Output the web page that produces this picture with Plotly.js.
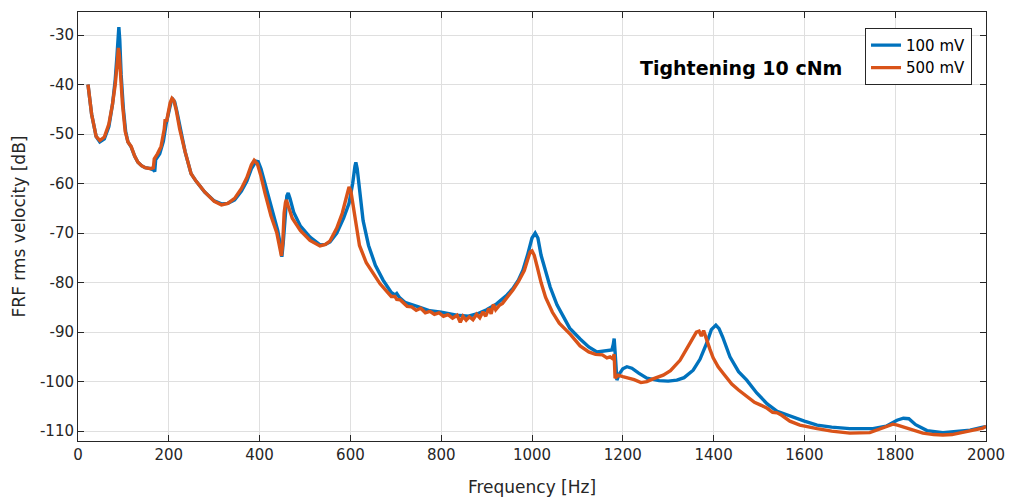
<!DOCTYPE html>
<html><head><meta charset="utf-8">
<script src="https://cdn.plot.ly/plotly-3.0.1.min.js"></script>
<style>html,body{margin:0;padding:0;background:#fff}#chart{width:1014px;height:500px}</style>
</head><body><div id="chart"></div>
<script>
const freq100 = [22,30,40,48,58,68,76,82,86,89,90,92,95,100,105,110,117,125,132,140,148,160,167,169,171,180,188,194,200,205,209,213,218,225,236,249,260,279,300,316,330,345,360,372,382,392,397,403,412,425,440,446,449,452,456,460,463,467,475,490,511,533,545,555,570,585,597,605,610,612,615,620,628,640,655,672,690,698,702,708,720,750,775,800,834,860,880,900,922,945,958,970,980,990,1000,1007,1013,1020,1030,1040,1055,1070,1083,1106,1125,1143,1160,1170,1176,1179,1181,1183,1185,1187,1192,1200,1209,1220,1235,1253,1280,1300,1319,1335,1355,1370,1385,1395,1405,1412,1420,1436,1455,1473,1495,1518,1540,1568,1600,1628,1660,1700,1751,1780,1804,1818,1830,1845,1870,1905,1936,1965,1993,2000];
const db100 = [-40,-46,-50.5,-51.6,-51,-48.5,-44,-39,-34,-29,-28.4,-31,-38,-45,-49.5,-51.6,-52.6,-54.5,-55.7,-56.4,-56.8,-57,-57.3,-57.6,-55.2,-54,-51.5,-48,-45.5,-43.5,-43,-43.5,-45.5,-49,-53.6,-58,-59.5,-61.7,-63.5,-64.1,-64,-63.3,-61.5,-59.5,-57,-55.5,-55.6,-57,-60,-64.5,-69.5,-72.5,-74.8,-72,-66,-62.5,-61.9,-63,-65.8,-68.6,-70.8,-72.4,-72.3,-71.8,-70,-67,-64,-60,-56.5,-55.7,-57,-61.5,-67.5,-72.5,-76.5,-79.5,-82,-82.5,-82.2,-83,-84,-84.9,-85.7,-86,-86.6,-86.8,-86.3,-85.5,-84.3,-82.5,-81.2,-79.5,-77.5,-74.5,-71,-70,-71,-74.5,-78,-80.9,-84.5,-87.2,-89.2,-91.4,-93,-94,-93.8,-93.8,-93.6,-92.5,-91.3,-94,-98,-99.7,-98.5,-97.4,-97,-97.3,-98.3,-99.3,-99.8,-99.9,-99.7,-99.2,-97.7,-95.5,-92.2,-89.5,-88.6,-89.3,-91,-95,-98,-99.7,-102.3,-104.5,-106,-107,-108,-108.8,-109.2,-109.5,-109.5,-109,-107.8,-107.4,-107.5,-108.7,-109.9,-110.3,-110,-109.8,-109.2,-109.1];

const freq500 = [22,30,40,48,58,68,76,82,86,88,89,91,94,98,104,110,117,125,132,140,148,160,166,168,175,183,190,192,195,198,203,207,211,216,224,236,249,260,279,300,316,330,345,360,372,382,388,395,403,412,425,438,446,448,451,454,457,459,463,472,490,511,533,545,555,570,582,590,597,601,606,612,620,635,650,665,680,690,698,702,710,718,725,735,745,755,765,775,785,795,805,815,825,835,842,848,855,862,870,878,885,892,898,905,910,915,920,928,935,945,958,970,978,983,990,996,1000,1005,1012,1020,1030,1045,1060,1069,1085,1106,1125,1140,1155,1165,1172,1178,1181,1183,1190,1200,1212,1225,1240,1253,1265,1275,1289,1305,1326,1340,1355,1362,1368,1373,1378,1384,1392,1399,1410,1421,1440,1455,1473,1490,1505,1518,1530,1540,1550,1568,1590,1610,1628,1660,1700,1744,1770,1795,1805,1826,1845,1861,1885,1905,1925,1949,1970,1993,2000];
const db500 = [-40,-46,-50.5,-51.3,-50.6,-48,-44,-40,-36,-33,-32.6,-34,-39,-44,-49.5,-51.6,-52.5,-54.5,-55.7,-56.4,-56.8,-57,-56.8,-55,-54,-52.5,-49,-47,-47.5,-46,-43.7,-42.8,-43.2,-45,-49,-53.6,-58,-59.5,-61.7,-63.6,-64.3,-64,-63,-61,-58.8,-56.2,-55.3,-56,-58.5,-62,-66.5,-70,-73.5,-74.6,-72,-66,-63.8,-63.3,-64.5,-67,-69.5,-71.5,-72.6,-72.3,-71.6,-69,-66,-63.5,-60.7,-61.5,-64.5,-68.5,-72.5,-76,-78,-80.2,-81.8,-82.8,-82.8,-83.4,-83.5,-84.2,-84.8,-84.9,-85.6,-85.2,-86.1,-85.8,-86.4,-86.1,-86.8,-86.5,-87.2,-86.6,-88,-86.8,-87.6,-86.9,-87.5,-86.4,-87.1,-85.9,-86.8,-85.2,-86.3,-84.4,-85.5,-84.6,-84.2,-83,-81.5,-79.8,-78.2,-77.6,-75.5,-73.8,-73.6,-74.5,-77,-80,-83,-86,-88.2,-89,-90.5,-92.8,-94,-94.5,-94.6,-95.2,-95,-95.4,-94.5,-99.3,-98.7,-99,-99.3,-99.6,-100.2,-100,-99.5,-99.2,-98.7,-97.8,-95.7,-93.5,-91,-90,-89.8,-90.8,-89.7,-91.5,-93.5,-95.2,-97,-98.3,-100.5,-101.7,-103,-104.2,-104.8,-105.4,-106.2,-106.3,-106.8,-108,-108.8,-109.2,-109.5,-110,-110.4,-110.3,-109.5,-108.6,-108.8,-109.4,-110.1,-110.4,-110.7,-110.8,-110.7,-110.2,-109.9,-109.4,-109];

const seriesNames = ['100 mV','500 mV'];
const xTickVals = [0,200,400,600,800,1000,1200,1400,1600,1800,2000];
const xTickText = ['0','200','400','600','800','1000','1200','1400','1600','1800','2000'];
const yTickVals = [-110,-100,-90,-80,-70,-60,-50,-40,-30];
const yTickText = ['-110','-100','-90','-80','-70','-60','-50','-40','-30'];

const axisCommon = {
  showline:true, linecolor:'#262626', linewidth:1, mirror:'ticks',
  ticks:'inside', ticklen:6, tickcolor:'#262626', tickwidth:1,
  showgrid:true, gridcolor:'#dfdfdf', gridwidth:1, zeroline:false,
  tickfont:{family:'DejaVu Sans', size:15, color:'#262626'}
};

const traces = [
  {x:freq100, y:db100, name:seriesNames[0], type:'scatter', mode:'lines',
   line:{color:'#0072BD', width:3.4}},
  {x:freq500, y:db500, name:seriesNames[1], type:'scatter', mode:'lines',
   line:{color:'#D95319', width:3.4}}
];

const layout = {
  width:1014, height:500,
  margin:{l:78, r:28, t:12, b:59},
  paper_bgcolor:'#fff', plot_bgcolor:'#fff',
  font:{family:'DejaVu Sans', color:'#262626'},
  xaxis:Object.assign({}, axisCommon, {range:[0,2000], tickvals:xTickVals, ticktext:xTickText,
    title:{text:'Frequency [Hz]', font:{family:'DejaVu Sans', size:17, color:'#262626'}, standoff:18}}),
  yaxis:Object.assign({}, axisCommon, {range:[-112,-25.35], tickvals:yTickVals, ticktext:yTickText,
    title:{text:'FRF rms velocity [dB]', font:{family:'DejaVu Sans', size:17, color:'#262626'}, standoff:10}}),
  showlegend:true,
  legend:{x:0.9846, xanchor:'right', y:0.963, yanchor:'top', bgcolor:'#fff',
    bordercolor:'#262626', borderwidth:1, font:{family:'DejaVu Sans', size:15, color:'#000'},
    tracegroupgap:0, itemwidth:30},
  annotations:[{x:1460, y:-36.7, xref:'x', yref:'y', text:'<b>Tightening 10 cNm</b>', showarrow:false,
    font:{family:'DejaVu Sans', size:19, color:'#000'}}]
};

Plotly.newPlot('chart', traces, layout, {displayModeBar:false, staticPlot:true});
</script></body></html>
